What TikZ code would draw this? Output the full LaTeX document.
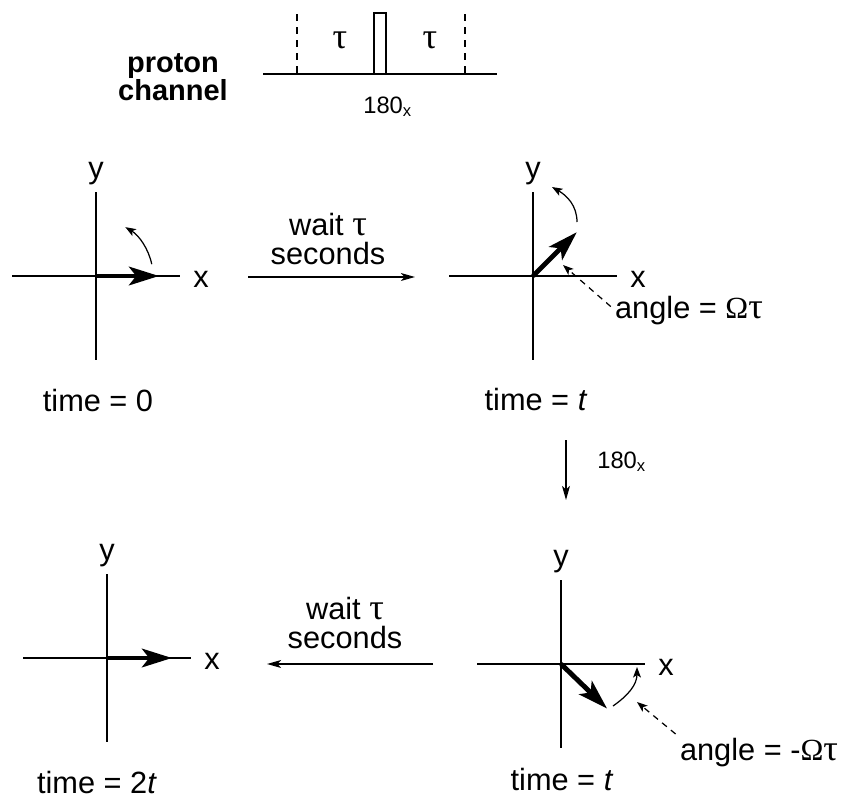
\documentclass[tikz,border=0pt]{standalone}
\usepackage{fontspec}
\setmainfont{Liberation Sans}
\newfontfamily\grkfont{Liberation Serif}
\newfontfamily\taufont[Scale=1.18]{Liberation Serif}
\usetikzlibrary{arrows.meta}

\newcommand{\gtau}{{\taufont τ}}
\newcommand{\gOmega}{{\grkfont Ω}}

\begin{document}
\begin{tikzpicture}[x=0.02cm, y=0.02cm,
    lbl/.style={font=\fontsize{17.5}{21}\selectfont, inner sep=0pt},
    small/.style={font=\fontsize{13.5}{16}\selectfont, inner sep=0pt},
    head/.style={font=\fontsize{16.5}{20}\selectfont\bfseries, inner sep=0pt},
    axis/.style={line width=1.1pt},
    vec/.style={line width=2.8pt, -{Stealth[length=17pt, width=10.5pt, inset=4pt]}},
    rot/.style={line width=0.7pt, -{Stealth[length=6pt, width=4.5pt, inset=1.5pt]}},
    hint/.style={line width=0.7pt, dash pattern=on 3.5pt off 3pt, shorten <=3pt,
                 -{Stealth[length=6pt, width=4.5pt, inset=1.5pt]}},
    flow/.style={line width=0.9pt, -{Stealth[length=8pt, width=4.5pt, inset=2pt]}},
    delay/.style={line width=0.9pt, dash pattern=on 4pt off 3.4pt}]

\useasboundingbox (0,0) rectangle (843,-799);

% --- Pulse sequence ---
\node[head, anchor=base] (chan1) at (173,-72) {proton};
\node[head, anchor=base] (chan2) at (173,-100) {channel};
\coordinate (seqa) at (263,-74);
\coordinate (seqb) at (497,-74);
\draw[axis] (seqa) -- (seqb);
\foreach \xx in {297,465}
    \draw[delay] (\xx,-14) -- (\xx,-74);
\draw[line width=0.7pt, fill=white] (374,-74) rectangle (386,-13);
\node[lbl] (tau1) at (340,-40) {\gtau};
\node[lbl] (tau2) at (430,-40) {\gtau};
\node[small, anchor=base west] (pulse1) at (363,-113) {180\textsubscript{x}};

% --- Axes ---
\foreach \n/\ox/\oy in {1/96/-276, 2/533/-276, 3/561/-664, 4/107/-658} {
    \coordinate (o\n) at (\ox,\oy);
    \draw[axis] (\ox-84,\oy) -- (\ox+84,\oy);
    \draw[axis] (\ox,\oy+84) -- (\ox,\oy-84);
    \node[lbl] (x\n) at (\ox+105,\oy-3.5) {x};
    \node[lbl] (y\n) at (\ox,\oy+102) {y};
}

% --- Magnetization vectors ---
\draw[vec] (o1) -- ++(0:63);
\draw[vec] (o2) -- ++(45:62);
\draw[vec] (o3) -- ++(-44:64);
\draw[vec] (o4) -- ++(0:65);

% --- Precession ---
\draw[rot] ([shift={(12:57)}]o1) arc[start angle=12, end angle=59, radius=57];
\draw[rot] ([shift={(44,54)}]o2) to[out=90, in=-30] ([shift={(19,89)}]o2);
\draw[rot] ([shift={(52,-42)}]o3) to[out=35, in=-90] ([shift={(76,-3)}]o3);

% --- Angle labels ---
\coordinate (aim1) at ([shift={(30,11)}]o2);
\coordinate (aim2) at ([shift={(76,-38)}]o3);
\node[lbl, anchor=base] (ang1) at (689,-318) {angle = \gOmega\gtau};
\node[lbl, anchor=base] (ang2) at (759,-760) {angle = -\gOmega\gtau};
\draw[hint] (ang1.west) -- (aim1);
\draw[hint] (ang2.north west) -- (aim2);

% --- Time labels ---
\node[lbl, anchor=base] (time1) at (98,-411) {time = 0};
\node[lbl, anchor=base] (time2) at (536,-410) {time = \textit{t}};
\node[lbl, anchor=base] (time3) at (562,-790) {time = \textit{t}};
\node[lbl, anchor=base] (time4) at (97,-793) {time = 2\textit{t}};

% --- Steps ---
\coordinate (w1a) at (248,-277);
\coordinate (w1b) at (415,-277);
\draw[flow] (w1a) -- (w1b);
\node[lbl, anchor=base] (wait1) at (328,-235) {wait \gtau};
\node[lbl, anchor=base] (secs1) at (328,-264) {seconds};

\coordinate (fa) at (566,-440);
\coordinate (fb) at (566,-500);
\draw[flow] (fa) -- (fb);
\node[small, anchor=base west] (pulse2) at (597,-468) {180\textsubscript{x}};

\coordinate (w2a) at (433,-664);
\coordinate (w2b) at (267,-664);
\draw[flow] (w2a) -- (w2b);
\node[lbl, anchor=base] (wait2) at (345,-619) {wait \gtau};
\node[lbl, anchor=base] (secs2) at (345,-648) {seconds};

\end{tikzpicture}
\end{document}
